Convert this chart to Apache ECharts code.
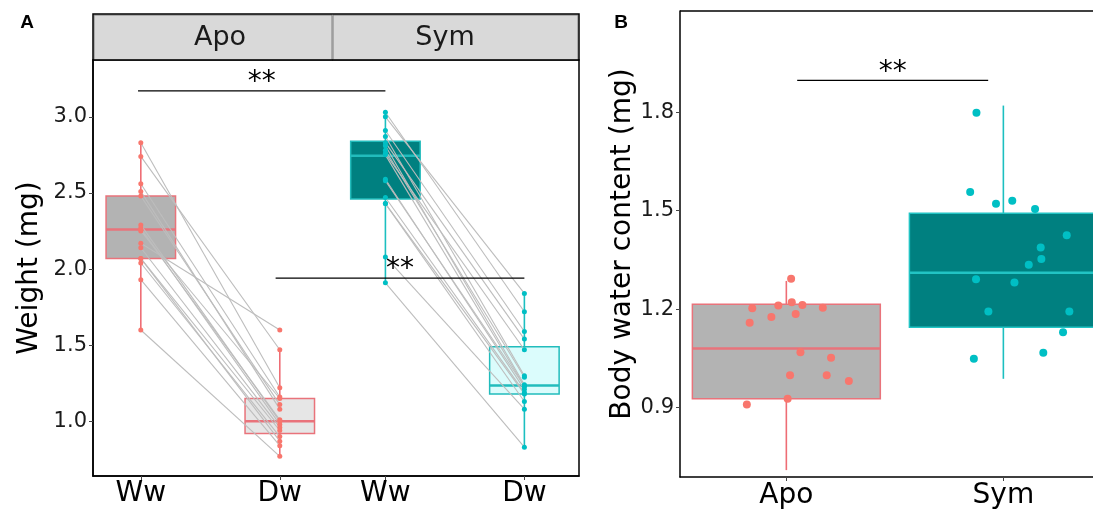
<!DOCTYPE html>
<html><head><meta charset="utf-8">
<script src="https://cdn.jsdelivr.net/npm/echarts@6/dist/echarts.min.js"></script>
<style>html,body{margin:0;padding:0;background:#fff}#c{width:1093px;height:510px}</style>
</head><body><div id="c"></div>
<script>
// ---------- Panel A data ----------
const facetsA = ['Apo', 'Sym'];
const stagesA = ['Ww', 'Dw', 'Ww', 'Dw'];
// paired by index (same individual): wet weight -> dry weight
const apoWw = [2.83, 2.74, 2.56, 2.51, 2.48, 2.29, 2.27, 2.26, 2.25, 2.17, 2.14, 2.07, 2.07, 2.04, 1.93, 1.60];
const apoDw = [1.22, 1.47, 1.16, 1.08, 1.11, 1.00, 0.98, 1.01, 1.15, 1.60, 0.96, 0.94, 0.87, 0.90, 0.84, 0.77];
const symWw = [3.03, 3.00, 2.91, 2.87, 2.83, 2.81, 2.78, 2.76, 2.75, 2.59, 2.58, 2.47, 2.43, 2.43, 2.08, 1.91];
const symDw = [1.72, 1.84, 1.59, 1.30, 1.54, 1.24, 1.29, 1.47, 1.23, 1.21, 1.23, 1.19, 1.18, 1.13, 1.08, 0.83];
// box stats: [lower whisker, Q1, median, Q3, upper whisker]
const boxApoWw = [1.60, 2.07, 2.26, 2.48, 2.83];
const boxApoDw = [0.77, 0.92, 1.00, 1.15, 1.47];
const boxSymWw = [1.91, 2.46, 2.745, 2.84, 3.03];
const boxSymDw = [0.83, 1.18, 1.235, 1.49, 1.84];
const ticksA = [1.0, 1.5, 2.0, 2.5, 3.0];
const sigLabels = ['**', '**', '**'];
const yTitleA = 'Weight (mg)';

// ---------- Panel B data ----------
const groupsB = ['Apo', 'Sym'];
const waterApo = [1.293, 1.203, 1.211, 1.221, 1.213, 1.204, 1.176, 1.185, 1.159, 1.069, 1.052, 0.999, 0.999, 0.981, 0.927, 0.910];
const jitterApo = [0.022, -0.157, -0.037, 0.025, 0.074, 0.168, -0.069, 0.043, -0.169, 0.065, 0.206, 0.017, 0.186, 0.288, 0.006, -0.182];
const waterSym = [1.798, 1.557, 1.521, 1.530, 1.505, 1.425, 1.388, 1.353, 1.335, 1.291, 1.281, 1.193, 1.193, 1.130, 1.049, 1.067];
const jitterSym = [-0.124, -0.153, -0.034, 0.041, 0.146, 0.292, 0.172, 0.175, 0.117, -0.126, 0.051, -0.069, 0.304, 0.275, -0.136, 0.184];
const boxApoB = [0.71, 0.927, 1.08, 1.215, 1.286];
const boxSymB = [0.988, 1.145, 1.311, 1.492, 1.82];
const ticksB = [0.9, 1.2, 1.5, 1.8];
const yTitleB = 'Body water content (mg)';

// ---------- layout / style ----------
const FONT = 'DejaVu Sans';
const RED = '#f8766d', CYAN = '#00bfc4';
const posA = [1, 2, 2.76, 3.76];          // x positions of Ww/Dw in each facet
const posB = [1, 2];
const stylesA = [
  {fill: '#b3b3b3', stroke: '#e9737b', whisker: '#ee6d75'},
  {fill: '#e6e6e6', stroke: '#e9737b', whisker: '#ee6d75'},
  {fill: '#008080', stroke: '#22bcbc', whisker: '#1cbfc0'},
  {fill: '#dbfcfc', stroke: '#22bcbc', whisker: '#1cbfc0'}
];
const stylesB = [
  {fill: '#b3b3b3', stroke: '#e9737b', whisker: '#ee6d75'},
  {fill: '#008080', stroke: '#22c4c4', whisker: '#1cbfc0'}
];

function boxRenderer(styles, bw) {
  return function (params, api) {
    const st = styles[params.dataIndex];
    const x = api.value(0);
    const lo = api.value(1), q1 = api.value(2), md = api.value(3), q3 = api.value(4), hi = api.value(5);
    const cx = api.coord([x, md])[0];
    const w = api.size([bw, 0])[0];
    const y = v => api.coord([x, v])[1];
    return {type: 'group', children: [
      {type: 'line', shape: {x1: cx, y1: y(hi), x2: cx, y2: y(q3)}, style: {stroke: st.whisker, lineWidth: 1.6}},
      {type: 'line', shape: {x1: cx, y1: y(q1), x2: cx, y2: y(lo)}, style: {stroke: st.whisker, lineWidth: 1.6}},
      {type: 'rect', shape: {x: cx - w / 2, y: y(q3), width: w, height: y(q1) - y(q3)}, style: {fill: st.fill, stroke: st.stroke, lineWidth: 1.5}},
      {type: 'line', shape: {x1: cx - w / 2, y1: y(md), x2: cx + w / 2, y2: y(md)}, style: {stroke: st.stroke, lineWidth: 2.5}}
    ]};
  };
}
function sigRenderer(params, api) {
  const a = api.coord([api.value(0), api.value(2)]);
  const b = api.coord([api.value(1), api.value(2)]);
  return {type: 'group', children: [
    {type: 'line', shape: {x1: a[0], y1: a[1], x2: b[0], y2: b[1]}, style: {stroke: '#000', lineWidth: 1.2}},
    {type: 'text', style: {text: sigLabels[params.dataIndex], x: (a[0] + b[0]) / 2, y: a[1] - 8, align: 'center', verticalAlign: 'middle', font: '28px ' + FONT, fill: '#000'}}
  ]};
}
function nearestLabel(positions, labels) {
  return v => {
    let bi = 0;
    positions.forEach((p, i) => { if (Math.abs(p - v) < Math.abs(positions[bi] - v)) bi = i; });
    return labels[bi];
  };
}

const pairLines = [];
apoWw.forEach((v, i) => pairLines.push({coords: [[posA[0], v], [posA[1], apoDw[i]]]}));
symWw.forEach((v, i) => pairLines.push({coords: [[posA[2], v], [posA[3], symDw[i]]]}));

const axisLabelStyle = {fontFamily: FONT, fontSize: 21, color: '#1a1a1a'};

const option = {
  animation: false,
  backgroundColor: '#fff',
  grid: [
    {left: 93, top: 60, width: 486, height: 416, show: true, borderColor: '#000', borderWidth: 1.5, containLabel: false},
    {left: 680, top: 11, width: 413, height: 470, show: false, containLabel: false}
  ],
  xAxis: [
    {type: 'value', gridIndex: 0, min: 0.656, max: 4.153, splitLine: {show: false},
     axisLine: {show: true, lineStyle: {color: '#000', width: 1.5}},
     axisTick: {show: true, customValues: posA, length: 4, lineStyle: {color: '#444'}},
     axisLabel: {customValues: posA, formatter: nearestLabel(posA, stagesA), fontFamily: FONT, fontSize: 28, color: '#000', margin: 4}},
    {type: 'value', gridIndex: 1, min: 0.51, max: 2.413, splitLine: {show: false},
     axisLine: {show: true, lineStyle: {color: '#000', width: 1.5}},
     axisTick: {show: true, customValues: posB, length: 4, lineStyle: {color: '#444'}},
     axisLabel: {customValues: posB, formatter: nearestLabel(posB, groupsB), fontFamily: FONT, fontSize: 28, color: '#000', margin: 5}}
  ],
  yAxis: [
    {type: 'value', gridIndex: 0, min: 0.641, max: 3.373, splitLine: {show: false},
     axisLine: {show: true, lineStyle: {color: '#000', width: 1.5}},
     axisTick: {show: true, customValues: ticksA, length: 4, lineStyle: {color: '#444'}},
     axisLabel: Object.assign({customValues: ticksA, formatter: v => v.toFixed(1), margin: 6}, axisLabelStyle),
     name: yTitleA, nameLocation: 'middle', nameGap: 49, nameRotate: 90,
     nameTextStyle: {fontFamily: FONT, fontSize: 28, color: '#000'}},
    {type: 'value', gridIndex: 1, min: 0.689, max: 2.108, splitLine: {show: false},
     axisLine: {show: true, lineStyle: {color: '#000', width: 1.5}},
     axisTick: {show: true, customValues: ticksB, length: 4, lineStyle: {color: '#444'}},
     axisLabel: Object.assign({customValues: ticksB, formatter: v => v.toFixed(1), margin: 6}, axisLabelStyle),
     name: yTitleB, nameLocation: 'middle', nameGap: 43, nameRotate: 90,
     nameTextStyle: {fontFamily: FONT, fontSize: 28, color: '#000'}}
  ],
  graphic: [
    {type: 'rect', shape: {x: 94, y: 15, width: 238, height: 45}, style: {fill: '#d9d9d9', stroke: '#7f7f7f', lineWidth: 1}},
    {type: 'rect', shape: {x: 333, y: 15, width: 245, height: 45}, style: {fill: '#d9d9d9', stroke: '#7f7f7f', lineWidth: 1}},
    {type: 'rect', shape: {x: 93, y: 14, width: 486, height: 46}, style: {fill: 'none', stroke: '#000', lineWidth: 1.5}},
    {type: 'line', shape: {x1: 680, y1: 11, x2: 1093, y2: 11}, style: {stroke: '#000', lineWidth: 1.5}},
    {type: 'text', style: {text: facetsA[0], x: 220, y: 38, align: 'center', verticalAlign: 'middle', font: '27px ' + FONT, fill: '#1a1a1a'}},
    {type: 'text', style: {text: facetsA[1], x: 445, y: 38, align: 'center', verticalAlign: 'middle', font: '27px ' + FONT, fill: '#1a1a1a'}},
    {type: 'text', style: {text: 'A', x: 27, y: 23, align: 'center', verticalAlign: 'middle', font: 'bold 19px Liberation Sans', fill: '#000'}},
    {type: 'text', style: {text: 'B', x: 621, y: 23, align: 'center', verticalAlign: 'middle', font: 'bold 19px Liberation Sans', fill: '#000'}}
  ],
  series: [
    {type: 'custom', xAxisIndex: 0, yAxisIndex: 0, renderItem: boxRenderer(stylesA, 0.5), z: 1,
     encode: {x: 0, y: [1, 2, 3, 4, 5]},
     data: [[posA[0], ...boxApoWw], [posA[1], ...boxApoDw], [posA[2], ...boxSymWw], [posA[3], ...boxSymDw]]},
    {type: 'lines', coordinateSystem: 'cartesian2d', xAxisIndex: 0, yAxisIndex: 0, z: 2,
     lineStyle: {color: '#bdbdbd', width: 1.1, opacity: 1}, data: pairLines},
    {type: 'scatter', xAxisIndex: 0, yAxisIndex: 0, symbolSize: 5, z: 3, itemStyle: {color: RED, opacity: 1},
     data: apoWw.map(v => [posA[0], v]).concat(apoDw.map(v => [posA[1], v]))},
    {type: 'scatter', xAxisIndex: 0, yAxisIndex: 0, symbolSize: 5, z: 3, itemStyle: {color: CYAN, opacity: 1},
     data: symWw.map(v => [posA[2], v]).concat(symDw.map(v => [posA[3], v]))},
    {type: 'custom', xAxisIndex: 0, yAxisIndex: 0, renderItem: sigRenderer, z: 4,
     data: [[posA[0] - 0.02, posA[2], 3.17], [posA[1] - 0.03, posA[3], 1.94]]},
    {type: 'custom', xAxisIndex: 1, yAxisIndex: 1, renderItem: boxRenderer(stylesB, 0.866), z: 1,
     encode: {x: 0, y: [1, 2, 3, 4, 5]},
     data: [[posB[0], ...boxApoB], [posB[1], ...boxSymB]]},
    {type: 'scatter', xAxisIndex: 1, yAxisIndex: 1, symbolSize: 8, z: 3, itemStyle: {color: RED, opacity: 1},
     data: waterApo.map((v, i) => [posB[0] + jitterApo[i], v])},
    {type: 'scatter', xAxisIndex: 1, yAxisIndex: 1, symbolSize: 8, z: 3, itemStyle: {color: CYAN, opacity: 1},
     data: waterSym.map((v, i) => [posB[1] + jitterSym[i], v])},
    {type: 'custom', xAxisIndex: 1, yAxisIndex: 1, z: 4,
     renderItem: (params, api) => sigRenderer({dataIndex: 2}, api),
     data: [[1.05, 1.93, 1.897]]}
  ]
};
const chart = echarts.init(document.getElementById('c'), null, {renderer: 'canvas'});
chart.setOption(option);
</script></body></html>
